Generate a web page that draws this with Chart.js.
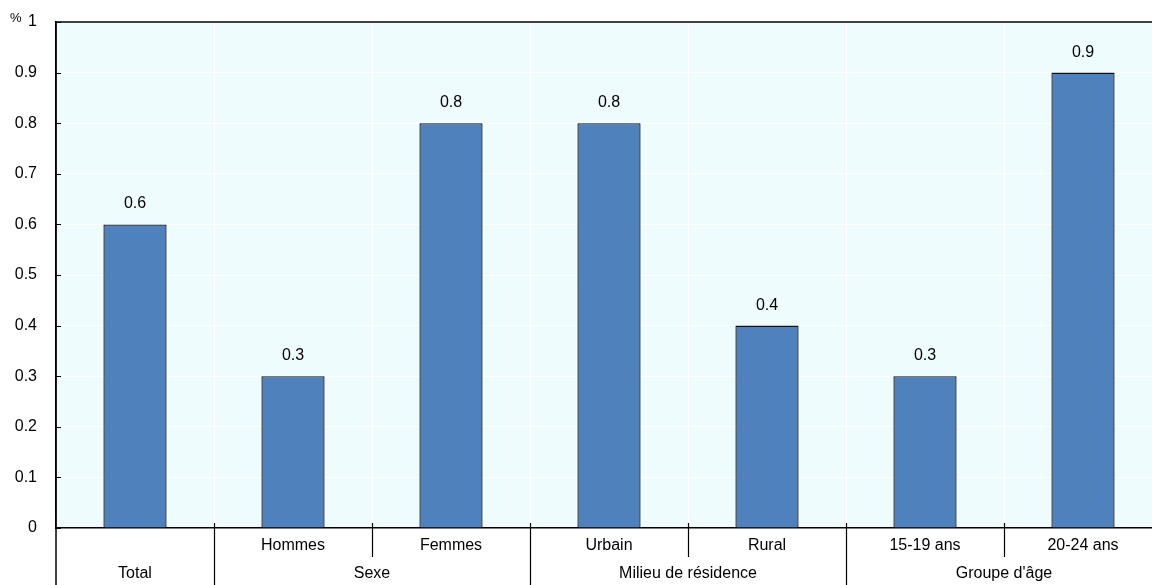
<!DOCTYPE html>
<html>
<head>
<meta charset="utf-8">
<script src="https://cdn.jsdelivr.net/npm/chart.js@4"></script>
<style>
  html, body { margin: 0; padding: 0; overflow: hidden; background: #fff; }
  #wrap { width: 1162px; height: 585px; }
</style>
</head>
<body>
<div id="wrap"><canvas id="chart"></canvas></div>
<script>
// ─── data ───
const subLabels = ['', 'Hommes', 'Femmes', 'Urbain', 'Rural', '15-19 ans', '20-24 ans'];
const groupLabels = ['Total', 'Sexe', 'Milieu de résidence', "Groupe d'âge"];
const groupSpans = [1, 2, 2, 2];
const values = [0.6, 0.3, 0.8, 0.8, 0.4, 0.3, 0.9];
const yTicks = [0, 0.1, 0.2, 0.3, 0.4, 0.5, 0.6, 0.7, 0.8, 0.9, 1];

const FONT = '"Liberation Sans", Arial, sans-serif';
const bgColor = '#effcfd';
const barColor = '#4f81bd';

// ─── plot background + frame + inward ticks ───
const framePlugin = {
  id: 'frame',
  beforeDraw(chart) {
    const { ctx, chartArea: a } = chart;
    ctx.save();
    ctx.fillStyle = bgColor;
    ctx.fillRect(a.left, a.top, a.right - a.left, a.bottom - a.top);
    ctx.restore();
  },
  afterDraw(chart) {
    const { ctx, chartArea: a, scales } = chart;
    const x = scales.x, y = scales.y;
    ctx.save();
    ctx.strokeStyle = '#000';
    // top border
    ctx.lineWidth = 1.5;
    ctx.beginPath(); ctx.moveTo(a.left, a.top); ctx.lineTo(chart.width, a.top); ctx.stroke();
    // left axis down to bottom of canvas
    ctx.beginPath(); ctx.moveTo(a.left, a.top); ctx.lineTo(a.left, chart.height); ctx.stroke();
    // inward y ticks
    ctx.lineWidth = 1;
    yTicks.forEach(v => {
      const py = Math.round(y.getPixelForValue(v)) + 0.5;
      ctx.beginPath(); ctx.moveTo(a.left, py); ctx.lineTo(a.left + 5, py); ctx.stroke();
    });
    // category separators below the axis
    const half = (x.getPixelForValue(1) - x.getPixelForValue(0)) / 2;
    let idx = 0;
    ctx.lineWidth = 1.2;
    groupSpans.forEach((span, g) => {
      for (let k = 1; k < span; k++) {
        const px = Math.round(x.getPixelForValue(idx + k) - half) + 0.5;
        ctx.beginPath(); ctx.moveTo(px, a.bottom - 5); ctx.lineTo(px, a.bottom + 29); ctx.stroke();
      }
      const start = x.getPixelForValue(idx) - half;
      const end = x.getPixelForValue(idx + span - 1) + half;
      if (g > 0) {
        const px = Math.round(start) + 0.5;
        ctx.beginPath(); ctx.moveTo(px, a.bottom - 5); ctx.lineTo(px, chart.height); ctx.stroke();
      }
      ctx.fillStyle = '#000';
      ctx.font = '16px ' + FONT;
      ctx.textAlign = 'center';
      ctx.textBaseline = 'middle';
      ctx.fillText(groupLabels[g], (start + end) / 2, 574);
      idx += span;
    });
    // % unit
    ctx.font = '13px ' + FONT;
    ctx.textAlign = 'left';
    ctx.textBaseline = 'middle';
    ctx.fillText('%', 10, 18);
    // value labels
    ctx.font = '16px ' + FONT;
    ctx.textAlign = 'center';
    ctx.textBaseline = 'alphabetic';
    chart.getDatasetMeta(0).data.forEach((bar, i) => {
      ctx.fillText(values[i].toFixed(1), bar.x, bar.y - 16);
    });
    ctx.restore();
  }
};

new Chart(document.getElementById('chart'), {
  type: 'bar',
  data: {
    labels: subLabels,
    datasets: [{
      data: values,
      backgroundColor: barColor,
      borderColor: '#111',
      borderWidth: 1.3,
      barPercentage: 0.4,
      categoryPercentage: 1
    }]
  },
  options: {
    responsive: true, maintainAspectRatio: false, animation: false,
    layout: { padding: { top: 22, left: 0, right: 0, bottom: 0 } },
    plugins: { legend: { display: false }, tooltip: { enabled: false } },
    scales: {
      x: {
        offset: true,
        grid: { offset: true, color: '#fff', lineWidth: 1, drawTicks: false },
        border: { color: '#000', width: 1.5 },
        ticks: { color: '#000', padding: 8, font: { size: 16, family: FONT }, maxRotation: 0, autoSkip: false },
        afterFit: s => { s.height = 57; s.paddingLeft = 0; s.paddingRight = 0; }
      },
      y: {
        min: 0, max: 1,
        afterBuildTicks: s => { s.ticks = yTicks.map(v => ({ value: v })); },
        grid: { color: '#fff', lineWidth: 1, drawTicks: false },
        border: { color: '#000', width: 1.5 },
        ticks: { color: '#000', padding: 19, font: { size: 16, family: FONT },
          callback: v => v === 0 || v === 1 ? String(v) : v.toFixed(1) },
        afterFit: s => { s.width = 56; s.paddingTop = 0; s.paddingBottom = 0; }
      }
    }
  },
  plugins: [framePlugin]
});
</script>
</body>
</html>
